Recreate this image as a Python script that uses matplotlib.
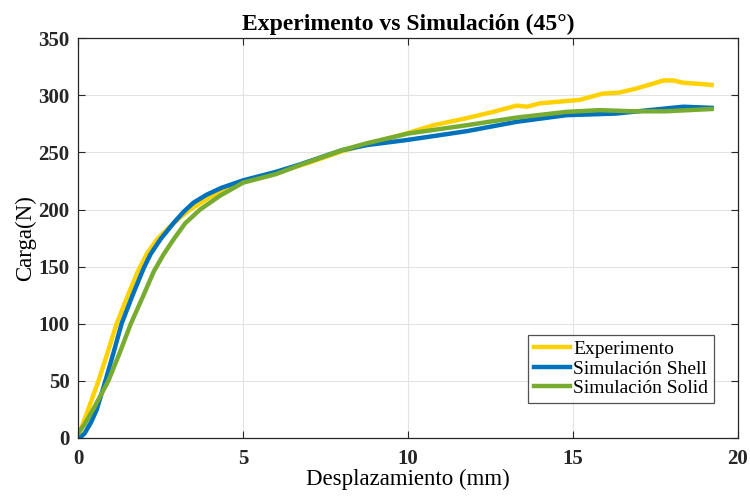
import numpy as np
import matplotlib.pyplot as plt

plt.rcParams['font.family'] = ['Liberation Serif', 'DejaVu Serif']

# Experimental load-displacement curve
exp_x = [0.0, 0.06, 0.31, 0.62, 0.9, 1.17, 1.5, 1.8, 2.1, 2.4, 2.75, 3.05, 3.35, 4.0, 4.6,
         5.0, 6.0, 7.0, 8.0, 9.0, 10.0, 10.77, 11.78, 12.58, 13.29, 13.6,
         14.0, 14.8, 15.2, 15.9, 16.4, 16.93, 17.43, 17.74, 18.04, 18.34, 18.85, 19.2]
exp_y = [4, 5.5, 25, 50, 75, 100, 124, 145, 162, 174, 184, 192, 199, 211, 219,
         224, 232, 241, 251, 259, 267, 273.8, 280, 285.5, 291, 290,
         293, 295, 296, 301.5, 302.4, 306, 310.3, 313, 313, 311, 310, 309]

# Shell model
shell_x = [0.05, 0.2, 0.4, 0.57, 0.83, 1.08, 1.32, 1.64, 1.98, 2.2, 2.5, 2.92, 3.2, 3.5, 3.9,
           4.35, 5.0, 6.0, 6.73, 8.0, 8.75, 10.0, 11.78, 13.29, 14.8, 16.3, 17.3, 18.34, 19.2]
shell_y = [0, 4, 14, 25, 50, 75, 100, 124, 148, 161, 174, 189, 198, 206, 213,
           219, 225.5, 233, 239.5, 252, 256.4, 261, 268.6, 276.8, 282.6, 284, 287, 290, 289]

# Solid model
solid_x = [0.0, 0.2, 0.46, 0.7, 0.92, 1.27, 1.6, 1.97, 2.3, 2.6, 2.9, 3.25, 3.7, 4.3,
           5.0, 6.0, 6.73, 8.0, 8.75, 10.0, 11.78, 13.29, 14.8, 15.8, 16.8, 17.8, 19.2]
solid_y = [4, 12, 25, 38, 50, 75, 100, 124, 146, 161, 174, 188, 200, 212,
           223.5, 231, 239, 252, 258, 266.5, 273.8, 280.5, 285.5, 287, 286, 286, 288]

fig = plt.figure(figsize=(7.5, 4.96), dpi=100)
ax = fig.add_axes([0.104, 0.117, 0.88, 0.806])

ax.plot(exp_x, exp_y, color='#FFD100', lw=3.2, label='Experimento', solid_joinstyle='round')
ax.plot(shell_x, shell_y, color='#0072BD', lw=3.2, label='Simulación Shell', solid_joinstyle='round')
ax.plot(solid_x, solid_y, color='#77AC30', lw=3.2, label='Simulación Solid', solid_joinstyle='round')

ax.set_xlim(0, 20)
ax.set_ylim(0, 350)
ax.set_xticks(np.arange(0, 21, 5))
ax.set_yticks(np.arange(0, 351, 50))
ax.grid(True, color='#e3e3e3', lw=0.8)
ax.set_axisbelow(True)

ax.tick_params(direction='in', top=True, right=True, length=5, width=0.8,
               colors='#262626', labelsize=15)
ax.tick_params(axis='x', pad=8)
ax.tick_params(axis='y', pad=6)
for lab in ax.get_xticklabels() + ax.get_yticklabels():
    lab.set_fontweight('bold')
for s in ax.spines.values():
    s.set_color('#262626')
    s.set_linewidth(0.9)

ax.set_title('Experimento vs Simulación (45°)', fontsize=17, fontweight='bold', pad=6)
ax.set_xlabel('Desplazamiento (mm)', fontsize=16.5, labelpad=0)
ax.set_ylabel('Carga(N)', fontsize=16.5, labelpad=2)

leg = ax.legend(loc='lower right', bbox_to_anchor=(0.964, 0.0875), borderaxespad=0,
                fontsize=14, frameon=True, fancybox=False, handlelength=1.9,
                handletextpad=0.15, borderpad=0.3, labelspacing=0.1)
leg.get_frame().set_edgecolor('#262626')
leg.get_frame().set_linewidth(0.9)

fig.savefig('out.png', dpi=100)
